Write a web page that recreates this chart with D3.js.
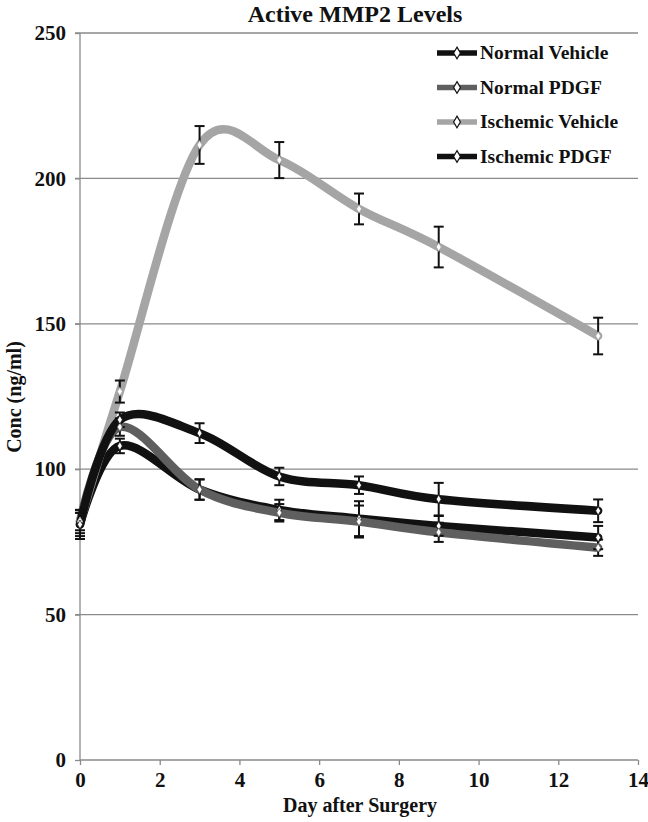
<!DOCTYPE html>
<html><head><meta charset="utf-8">
<script src="https://cdn.jsdelivr.net/npm/d3@7"></script>
<style>body{margin:0;background:#fff}svg{display:block}</style>
</head><body>
<script>
const days = [0, 1, 3, 5, 7, 9, 13];
const seriesNames = ["Normal Vehicle", "Normal PDGF", "Ischemic Vehicle", "Ischemic PDGF"];
const normalVehicle = [81, 108, 93, 86, 83, 80.5, 76.5];
const normalVehicleErr = [4, 2.5, 3.5, 3.5, 6, 3.4, 4];
const normalPDGF = [82, 114.5, 93, 85, 82, 78.3, 73];
const normalPDGFErr = [4, 3, 3.5, 3, 5.5, 3.3, 2.8];
const ischemicVehicle = [82, 126.7, 211.5, 206.3, 189.5, 176.4, 145.8];
const ischemicVehicleErr = [3, 3.8, 6.5, 6.2, 5.3, 7, 6.3];
const ischemicPDGF = [81, 117, 112.4, 97.5, 94.5, 89.7, 85.7];
const ischemicPDGFErr = [5, 2.5, 3.4, 3, 3, 5.6, 3.9];
const xTicks = [0, 2, 4, 6, 8, 10, 12, 14];
const yTicks = [0, 50, 100, 150, 200, 250];
const colors = ["#111111", "#5f5f5f", "#a5a5a5", "#111111"];

const series = [
  {name: seriesNames[0], v: normalVehicle, e: normalVehicleErr, c: colors[0]},
  {name: seriesNames[1], v: normalPDGF, e: normalPDGFErr, c: colors[1]},
  {name: seriesNames[2], v: ischemicVehicle, e: ischemicVehicleErr, c: colors[2]},
  {name: seriesNames[3], v: ischemicPDGF, e: ischemicPDGFErr, c: colors[3]}
];

const W = 648, H = 822;
const svg = d3.select("body").append("svg").attr("width", W).attr("height", H);
const font = "'Liberation Serif', serif";
const x = d3.scaleLinear().domain([0, 14]).range([80, 638]);
const y = d3.scaleLinear().domain([0, 250]).range([760, 33]);
const gridC = "#8a8a8a";

// gridlines
svg.append("g").selectAll("line").data(yTicks.filter(t => t > 0)).join("line")
  .attr("x1", 75).attr("x2", 638).attr("y1", d => y(d)).attr("y2", d => y(d))
  .attr("stroke", gridC).attr("stroke-width", 1.3);

// axes
const yAxis = svg.append("g").attr("transform", "translate(80,0)")
  .call(d3.axisLeft(y).tickValues(yTicks).tickSize(5).tickPadding(9));
const xAxis = svg.append("g").attr("transform", "translate(0,760)")
  .call(d3.axisBottom(x).tickValues(xTicks).tickSize(5).tickPadding(7));
[xAxis, yAxis].forEach(g => {
  g.select(".domain").attr("stroke", gridC).attr("stroke-width", 1.3);
  g.selectAll(".tick line").attr("stroke", gridC).attr("stroke-width", 1.3);
  g.selectAll("text").attr("font-family", font).attr("font-weight", "bold")
    .attr("font-size", 21).attr("fill", "#111");
});
yAxis.select(".domain").attr("d", `M0,${y(250)}V${y(0)}`);
xAxis.select(".domain").attr("d", `M${x(0)},0H${x(14)}`);

// titles
svg.append("text").attr("x", 355).attr("y", 22).attr("text-anchor", "middle")
  .attr("font-family", font).attr("font-weight", "bold").attr("font-size", 24)
  .attr("fill", "#111").text("Active MMP2 Levels");
svg.append("text").attr("x", 360).attr("y", 812).attr("text-anchor", "middle")
  .attr("font-family", font).attr("font-weight", "bold").attr("font-size", 20)
  .attr("fill", "#111").text("Day after Surgery");
svg.append("text").attr("transform", "translate(21,397) rotate(-90)").attr("text-anchor", "middle")
  .attr("font-family", font).attr("font-weight", "bold").attr("font-size", 20)
  .attr("fill", "#111").text("Conc (ng/ml)");

// lines
const line = d3.line().x((d, i) => x(days[i])).y(d => y(d)).curve(d3.curveCardinal.tension(0));
series.forEach(s => {
  svg.append("path").attr("d", line(s.v)).attr("fill", "none")
    .attr("stroke", s.c).attr("stroke-width", 8.5).attr("stroke-linejoin", "round").attr("stroke-linecap", "round");
});

// error bars
series.forEach(s => {
  const g = svg.append("g").attr("stroke", "#111").attr("stroke-width", 2);
  s.v.forEach((v, i) => {
    const cx = x(days[i]);
    g.append("line").attr("x1", cx).attr("x2", cx).attr("y1", y(v + s.e[i])).attr("y2", y(v - s.e[i]));
    g.append("line").attr("x1", cx - 5).attr("x2", cx + 5).attr("y1", y(v + s.e[i])).attr("y2", y(v + s.e[i]));
    g.append("line").attr("x1", cx - 5).attr("x2", cx + 5).attr("y1", y(v - s.e[i])).attr("y2", y(v - s.e[i]));
  });
});

// markers
const diamond = d3.symbol().type(d3.symbolDiamond).size(22);
series.forEach(s => {
  svg.append("g").selectAll("path").data(s.v).join("path")
    .attr("d", diamond).attr("transform", (d, i) => `translate(${x(days[i])},${y(d)})`)
    .attr("fill", "#fff").attr("stroke", s.c).attr("stroke-width", 0.8);
});

// legend
const leg = svg.append("g");
series.forEach((s, i) => {
  const ly = 53 + i * 34.5;
  leg.append("line").attr("x1", 437).attr("x2", 477).attr("y1", ly).attr("y2", ly)
    .attr("stroke", s.c).attr("stroke-width", 5.5);
  leg.append("path").attr("d", d3.symbol().type(d3.symbolDiamond).size(40)())
    .attr("transform", `translate(457,${ly})`).attr("fill", "#fff").attr("stroke", "#111").attr("stroke-width", 1.2);
  leg.append("text").attr("x", 480).attr("y", ly + 6).attr("font-family", font).attr("font-weight", "bold")
    .attr("font-size", 19.5).attr("fill", "#111").text(s.name);
});
</script>
</body></html>
